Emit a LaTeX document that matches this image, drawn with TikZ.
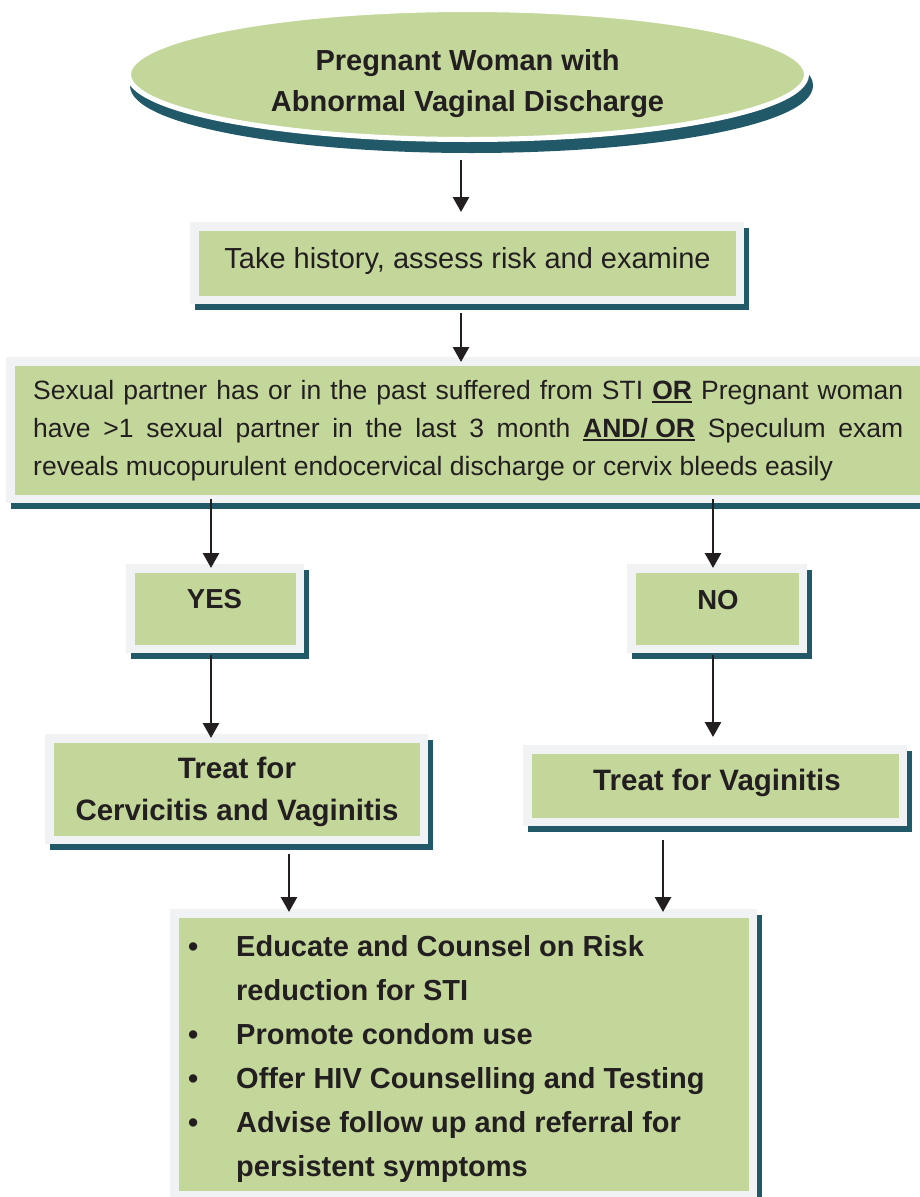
\documentclass[tikz,border=0pt]{standalone}
\usepackage{fontspec}
\setmainfont{Liberation Sans}
\usetikzlibrary{arrows.meta,shapes.geometric,shadows}

\definecolor{boxgreen}{HTML}{C4D79B}
\definecolor{framegray}{HTML}{F1F2F4}
\definecolor{shadeteal}{HTML}{215968}
\definecolor{inkc}{HTML}{231F20}

% bold text with a heavy underline
\newcommand\mkul[1]{\begingroup\setbox0\hbox{\bfseries #1}\rlap{\rule[-3.5pt]{\wd0}{1.8pt}}\box0\endgroup}
% bullet followed by the item indent
\newcommand\itembul{\makebox[48pt][l]{•}}
\newcommand\itemcont{\hspace*{48pt}}

\begin{document}
\begin{tikzpicture}[x=1pt,y=-1pt,
  framebox/.style={rectangle, fill=boxgreen, draw=framegray, line width=8.5pt, inner sep=0pt,
    drop shadow={shadow xshift=4.5pt, shadow yshift=-6pt, fill=shadeteal, draw=shadeteal,
      line width=8.5pt, opacity=1}},
  oval/.style={ellipse, fill=boxgreen, draw=white, line width=5pt, inner sep=0pt,
    drop shadow={shadow xshift=4pt, shadow yshift=-11pt, fill=shadeteal, draw=shadeteal,
      line width=5pt, opacity=1}},
  txt/.style={text=inkc, inner sep=0pt},
  arr/.style={draw=inkc, line width=2.8pt, -{Triangle[width=16pt,length=15pt]}}
]
\useasboundingbox (0,0) rectangle (920,1197);

% columns of the vertical connectors
\coordinate (colM) at (461,0);
\coordinate (colL) at (211,0);
\coordinate (colR) at (713,0);
\coordinate (colBL) at (289,0);
\coordinate (colBR) at (663,0);

% start oval (multi-line labels are placed by the baseline of their last line)
\node[oval, minimum width=678pt, minimum height=130pt] (start) at (467.5,74.5) {};
\node[txt, font=\fontsize{29}{41}\selectfont\bfseries, align=center, anchor=base] (startlbl)
  at (467.5,111) {Pregnant Woman with\\Abnormal Vaginal Discharge};

% history
\node[framebox, minimum width=545.5pt, minimum height=73.5pt] (history) at (467,263) {};
\node[txt, font=\fontsize{29}{35}\selectfont, anchor=base] (historylbl)
  at (467.5,268) {Take history, assess risk and examine};

% risk criteria
\node[framebox, minimum width=920.5pt, minimum height=137.5pt] (criteria) at (470.5,430) {};
\node[txt, font=\fontsize{26.5}{38}\selectfont, align=left, anchor=base west] (criterialbl)
  at (33,475) {%
  \makebox[870pt][s]{Sexual partner has or in the past suffered from STI \mkul{OR} Pregnant woman}\\
  \makebox[870pt][s]{have >1 sexual partner in the last 3 month \mkul{AND/ OR} Speculum exam}\\
  reveals mucopurulent endocervical discharge or cervix bleeds easily};

% answers
\node[framebox, minimum width=169.5pt, minimum height=80.5pt] (yes) at (215,608.5) {};
\node[txt, font=\fontsize{27.5}{33}\selectfont\bfseries, anchor=base] (yeslbl) at (214.5,608) {YES};
\node[framebox, minimum width=171.5pt, minimum height=80.5pt] (no) at (717,608.5) {};
\node[txt, font=\fontsize{27.5}{33}\selectfont\bfseries, anchor=base] (nolbl) at (718,609) {NO};

% treatments
\node[framebox, minimum width=374.5pt, minimum height=101.5pt] (cerv) at (236.5,789) {};
\node[txt, font=\fontsize{29.5}{42}\selectfont\bfseries, align=center, anchor=base] (cervlbl)
  at (237,820) {Treat for\\Cervicitis and Vaginitis};
\node[framebox, minimum width=375.5pt, minimum height=72.5pt] (vag) at (715,785.5) {};
\node[txt, font=\fontsize{29.5}{35}\selectfont\bfseries, anchor=base] (vaglbl)
  at (717,790) {Treat for Vaginitis};

% counselling
\node[framebox, minimum width=578.5pt, minimum height=281.5pt] (care) at (463.5,1054) {};
\node[txt, font=\fontsize{29}{44}\selectfont\bfseries, align=left, anchor=base west] (carelbl)
  at (188,1176) {%
  \itembul Educate and Counsel on Risk\\
  \itemcont reduction for STI\\
  \itembul Promote condom use\\
  \itembul Offer HIV Counselling and Testing\\
  \itembul Advise follow up and referral for\\
  \itemcont persistent symptoms};

% connectors
\draw[arr, shorten <=18pt, shorten >=10pt] (start.south -| colM) -- (history.north -| colM);
\draw[arr, shorten <=9pt, shorten >=-5pt] (history.south -| colM) -- (criteria.north -| colM);
\draw[arr, shorten <=-4pt, shorten >=-4pt] (criteria.south -| colL) -- (yes.north -| colL);
\draw[arr, shorten <=-4pt, shorten >=-4pt] (criteria.south -| colR) -- (no.north -| colR);
\draw[arr, shorten <=2pt, shorten >=-4pt] (yes.south -| colL) -- (cerv.north -| colL);
\draw[arr, shorten <=2pt, shorten >=8pt] (no.south -| colR) -- (vag.north -| colR);
\draw[arr, shorten <=10pt, shorten >=-3pt] (cerv.south -| colBL) -- (care.north -| colBL);
\draw[arr, shorten <=14pt, shorten >=-3pt] (vag.south -| colBR) -- (care.north -| colBR);
\end{tikzpicture}
\end{document}
